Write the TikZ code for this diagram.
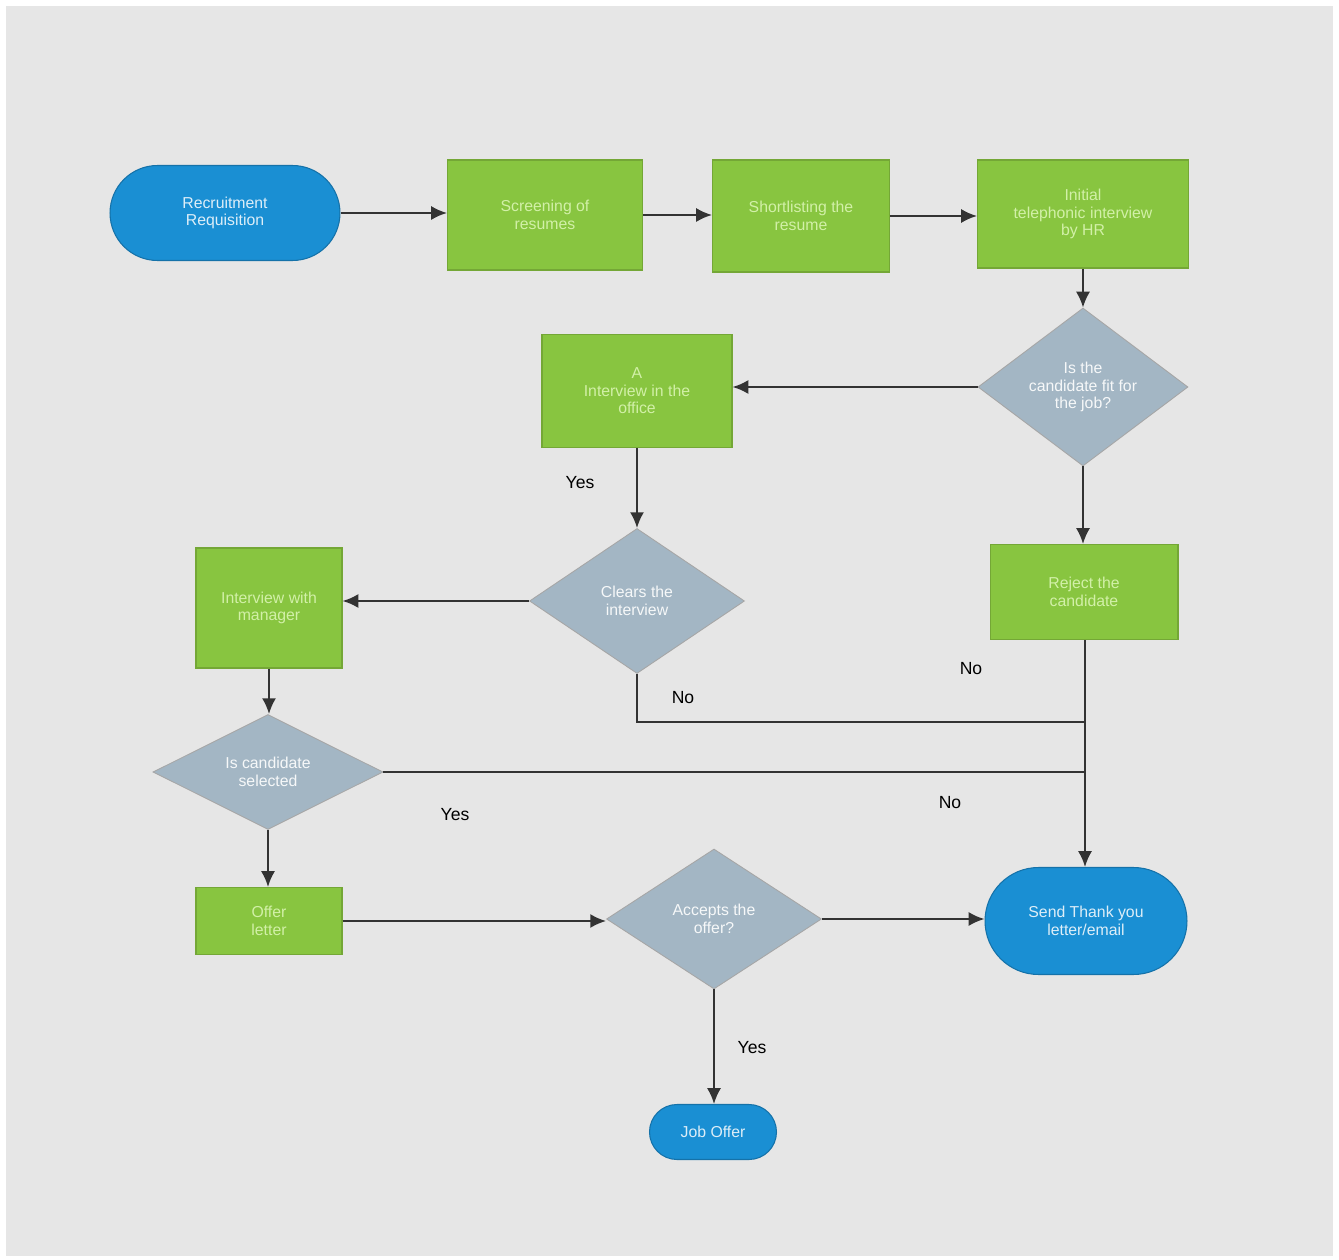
\documentclass[tikz,border=0pt]{standalone}
\usepackage{fontspec}
\setmainfont{Liberation Sans}
\usetikzlibrary{shapes.geometric,shapes.misc,arrows.meta}
\definecolor{bggray}{HTML}{E6E6E6}
\definecolor{termblue}{HTML}{1A8FD3}
\definecolor{boxgreen}{HTML}{88C540}
\definecolor{diagray}{HTML}{A3B6C4}
\definecolor{txtgreen}{HTML}{D2F0A8}
\tikzset{
  terminal/.style={rounded rectangle, fill=termblue, draw=termblue!80!black, line width=0.6pt,
    text=white!85!termblue, align=center, inner sep=0pt, font=\fontsize{9}{10}\selectfont},
  procbox/.style={rectangle, fill=boxgreen, draw=boxgreen!85!black, line width=0.6pt,
    text=txtgreen, align=center, inner sep=0pt, font=\fontsize{9}{10}\selectfont},
  decision/.style={diamond, fill=diagray, draw=gray!70, line width=0.5pt,
    text=white!90!diagray, align=center, inner sep=0pt, font=\fontsize{9}{10}\selectfont},
  conn/.style={line width=1.2pt, draw=black!80, -{Latex[length=9pt,width=8pt]}},
  plain/.style={line width=1.2pt, draw=black!80},
  lbl/.style={font=\fontsize{10}{12}\selectfont, text=black}
}
\begin{document}
\begin{tikzpicture}[x=0.02cm,y=-0.02cm]
\useasboundingbox (0,0) rectangle (1339,1260);
\fill[white] (0,0) rectangle (1339,1260);
\fill[bggray] (6,6) rectangle (1333,1256);

% nodes
\node[terminal, minimum width=4.6cm, minimum height=1.9cm] (req) at (225,213) {Recruitment\\Requisition};
\node[procbox, minimum width=3.9cm, minimum height=2.2cm] (screen) at (545,215) {Screening of\\resumes};
\node[procbox, minimum width=3.54cm, minimum height=2.24cm] (short) at (801,216) {Shortlisting the\\resume};
\node[procbox, minimum width=4.22cm, minimum height=2.16cm] (phone) at (1083,214) {Initial\\telephonic interview\\by HR};
\node[decision, minimum width=4.2cm, minimum height=2.7cm] (fit) at (1083,387) {Is the\\candidate fit for\\the job?};
\node[procbox, minimum width=3.8cm, minimum height=2.26cm] (hrint) at (637,391) {A\\Interview in the\\office};
\node[decision, minimum width=4.3cm, minimum height=2.9cm] (clears) at (637,601) {Clears the\\interview};
\node[procbox, minimum width=2.92cm, minimum height=2.4cm] (mgr) at (269,608) {Interview with\\manager};
\node[procbox, minimum width=3.76cm, minimum height=1.9cm] (reject) at (1084,592) {Reject the\\candidate};
\node[decision, minimum width=4.6cm, minimum height=2.3cm] (sel) at (268,772) {Is candidate\\selected};
\node[procbox, minimum width=2.92cm, minimum height=1.34cm] (offer) at (269,921) {Offer\\letter};
\node[decision, minimum width=4.3cm, minimum height=2.8cm] (accept) at (714,919) {Accepts the\\offer?};
\node[terminal, minimum width=4.04cm, minimum height=2.14cm] (thanks) at (1086,921) {Send Thank you\\letter/email};
\node[terminal, minimum width=2.54cm, minimum height=1.1cm] (job) at (713,1132) {Job Offer};

% junction coordinates
\coordinate (j1) at (1085,722);

% connectors
\draw[conn] (req.east) -- (req.east -| screen.west);
\draw[conn] (screen.east) -- (screen.east -| short.west);
\draw[conn] (short.east) -- (short.east -| phone.west);
\draw[conn] (phone.south) -- (phone.south |- fit.north);
\draw[conn] (fit.west) -- (fit.west -| hrint.east);
\draw[conn] (fit.south) -- (fit.south |- reject.north);
\draw[conn] (hrint.south) -- (hrint.south |- clears.north);
\draw[conn] (clears.west) -- (clears.west -| mgr.east);
\draw[conn] (mgr.south) -- (mgr.south |- sel.north);
\draw[plain] (clears.south) |- (j1);
\draw[plain] (sel.east) -- (sel.east -| j1);
\draw[conn] (reject.south -| j1) -- (j1 |- thanks.north);
\draw[conn] (sel.south) -- (sel.south |- offer.north);
\draw[conn] (offer.east) -- (offer.east -| accept.west);
\draw[conn] (accept.east) -- (accept.east -| thanks.west);
\draw[conn] (accept.south) -- (accept.south |- job.north);

% labels
\node[lbl] (l1) at (580,483) {Yes};
\node[lbl] (l2) at (683,698) {No};
\node[lbl] (l3) at (971,669) {No};
\node[lbl] (l4) at (455,815) {Yes};
\node[lbl] (l5) at (950,803) {No};
\node[lbl] (l6) at (752,1048) {Yes};
\end{tikzpicture}
\end{document}
